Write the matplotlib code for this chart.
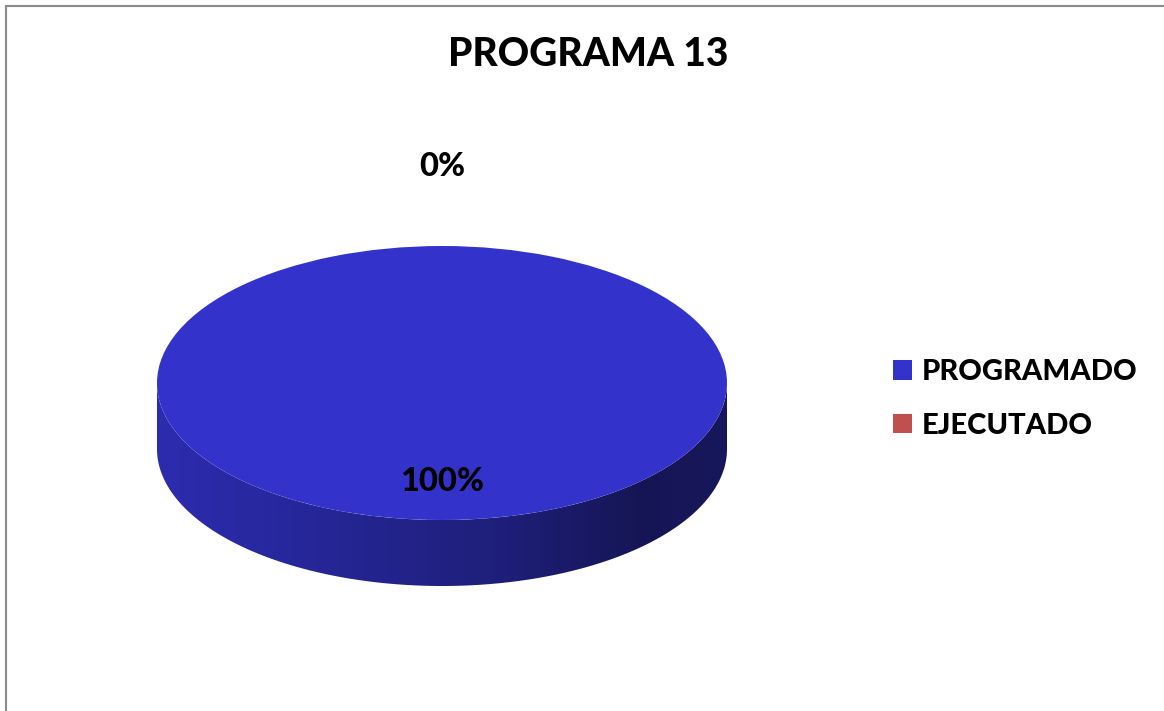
import matplotlib
matplotlib.use('Agg')
import matplotlib.pyplot as plt
import numpy as np
from matplotlib.path import Path
from matplotlib.patches import PathPatch, Rectangle
from matplotlib.colors import to_rgb

titulo = 'PROGRAMA 13'
categorias = ['PROGRAMADO', 'EJECUTADO']
valores = [100, 0]
colores = ['#3333CC', '#C0504D']

plt.rcParams['font.family'] = ['Lato', 'DejaVu Sans']
PESO = 900

W, H = 1164, 711
fig = plt.figure(figsize=(W / 100, H / 100), dpi=100)

# geometria del pastel en pixeles (elipse superior + espesor)
cx, cy, rx, ry, prof = 442, 383, 285, 137, 66
d = prof / ry

ax = fig.add_axes([0, 0, 1, 1])
wedges, _, autotexts = ax.pie(valores, colors=colores, startangle=90,
                               counterclock=False, autopct='%1.0f%%',
                               pctdistance=0.72,
                               wedgeprops=dict(linewidth=0, zorder=3),
                               textprops=dict(fontsize=23.5, fontweight=PESO,
                                              color='black', zorder=5))
ax.set_aspect('auto')
ax.set_xlim(-cx / rx, (W - cx) / rx)
ax.set_ylim(-(H - cy) / ry, cy / ry)
ax.axis('off')

# etiqueta del 0% por encima del pastel
for w, t in zip(wedges, autotexts):
    if w.theta2 - w.theta1 < 1e-6:
        ang = np.deg2rad(w.theta1)
        t.set_position((1.58 * np.cos(ang), 1.58 * np.sin(ang)))

# lateral del pastel con degradado
t = np.linspace(180, 360, 600)
for w, col in zip(wedges, colores):
    span = w.theta2 - w.theta1
    if span <= 0:
        continue
    if span >= 360 - 1e-9:
        mask = np.ones_like(t, dtype=bool)
    else:
        mask = ((t - w.theta1) % 360) <= span
    if not mask.any():
        continue
    idx = np.where(mask)[0]
    runs = np.split(idx, np.where(np.diff(idx) > 1)[0] + 1)
    for run in runs:
        tt = np.deg2rad(t[run])
        top = np.column_stack([np.cos(tt), np.sin(tt)])
        bot = np.column_stack([np.cos(tt[::-1]), np.sin(tt[::-1]) - d])
        verts = np.vstack([top, bot, top[:1]])
        codes = [Path.MOVETO] + [Path.LINETO] * (len(verts) - 2) + [Path.CLOSEPOLY]
        patch = PathPatch(Path(verts, codes), facecolor='none', edgecolor='none')
        ax.add_patch(patch)
        base = np.array(to_rgb(col))
        xs = np.linspace(-1, 1, 300)
        f = np.interp(xs, [-1, -0.6, 0.2, 0.7, 1], [0.86, 0.78, 0.6, 0.42, 0.45])
        img = (base[None, :] * f[:, None])[None, :, :]
        im = ax.imshow(img, extent=(-1, 1, -1 - d, 0), aspect='auto',
                       interpolation='bilinear', zorder=2)
        im.set_clip_path(patch)

ax.text(0.505, 1 - 55 / H, titulo, transform=fig.transFigure, ha='center',
        va='center', fontsize=28, fontweight=PESO)

fig.legend(wedges, categorias, loc='center left',
           bbox_to_anchor=(893 / W, 1 - 399 / H), frameon=False,
           prop=dict(size=21, weight=PESO), handlelength=0.66,
           handleheight=0.66, handletextpad=0.33, labelspacing=0.95,
           borderpad=0, borderaxespad=0)

fig.patches.append(Rectangle((6 / W, -0.2), 1.5, (1 - 6 / H) + 0.2,
                             transform=fig.transFigure, fill=False,
                             edgecolor='#8c8c8c', linewidth=1.5))

fig.savefig('out.png', dpi=100)
